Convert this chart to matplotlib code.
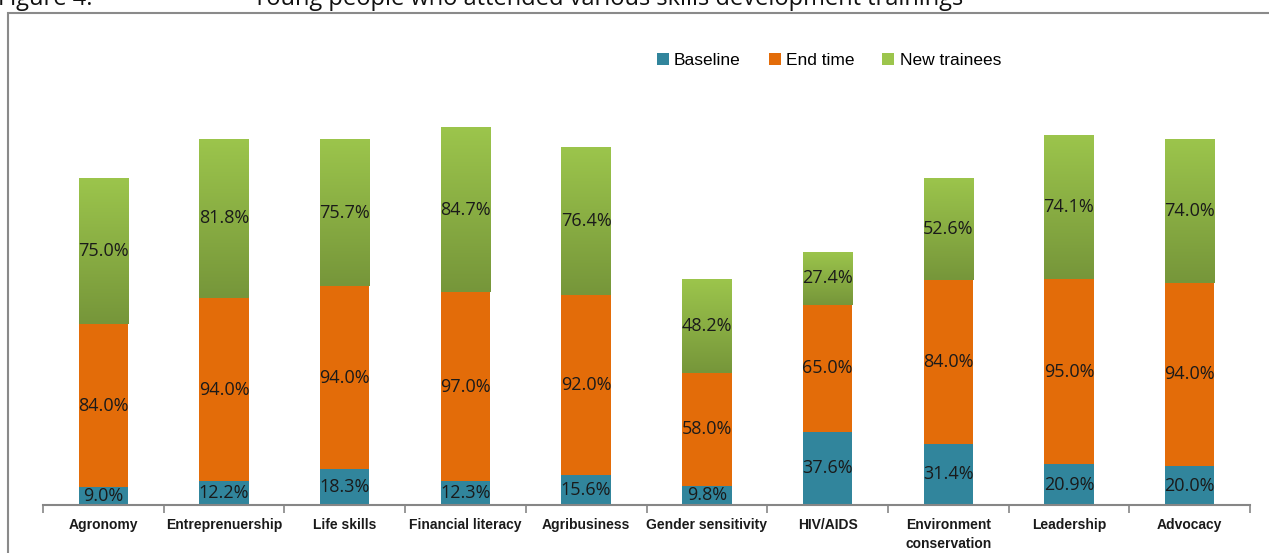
import numpy as np
from matplotlib import pyplot as plt
from matplotlib.patches import Rectangle
from matplotlib.colors import LinearSegmentedColormap

categories = ["Agronomy", "Entreprenuership", "Life skills", "Financial literacy",
              "Agribusiness", "Gender sensitivity", "HIV/AIDS",
              "Environment\nconservation", "Leadership", "Advocacy"]
baseline = [9.0, 12.2, 18.3, 12.3, 15.6, 9.8, 37.6, 31.4, 20.9, 20.0]
end_time = [84.0, 94.0, 94.0, 97.0, 92.0, 58.0, 65.0, 84.0, 95.0, 94.0]
new_trainees = [75.0, 81.8, 75.7, 84.7, 76.4, 48.2, 27.4, 52.6, 74.1, 74.0]

teal = "#31859C"
orange = "#E36C09"
green_top = "#9CC54C"
green_bot = "#76963A"

fig = plt.figure(figsize=(12.69, 5.53), dpi=100)
ax = fig.add_axes([43 / 1269, 1 - 505 / 553, (1250 - 43) / 1269, 487 / 553])

x = np.arange(len(categories))
w = 0.41
base = np.array(baseline)
mid = base + np.array(end_time)

ax.bar(x, baseline, w, color=teal, label="Baseline", zorder=2)
ax.bar(x, end_time, w, bottom=base, color=orange, label="End time", zorder=2)
gbars = ax.bar(x, new_trainees, w, bottom=mid, color=green_top, label="New trainees", zorder=2)

# vertical gradient on the green segments
cmap = LinearSegmentedColormap.from_list("g", [green_bot, green_top])
grad = np.linspace(0, 1, 256).reshape(-1, 1)
for b in gbars:
    x0, y0 = b.get_x(), b.get_y()
    im = ax.imshow(grad, cmap=cmap, origin="lower", aspect="auto",
                   extent=[x0, x0 + b.get_width(), y0, y0 + b.get_height()], zorder=3)
    im.set_clip_path(b)

lab_font = ["Open Sans", "DejaVu Sans"]
for i in range(len(categories)):
    ax.text(x[i], baseline[i] / 2, f"{baseline[i]:.1f}%", ha="center", va="center",
            fontsize=13, family=lab_font, color="#1a1a1a", zorder=5)
    ax.text(x[i], base[i] + end_time[i] / 2, f"{end_time[i]:.1f}%", ha="center", va="center",
            fontsize=13, family=lab_font, color="#1a1a1a", zorder=5)
    ax.text(x[i], mid[i] + new_trainees[i] / 2, f"{new_trainees[i]:.1f}%", ha="center", va="center",
            fontsize=13, family=lab_font, color="#1a1a1a", zorder=5)

ax.set_xlim(-0.5, len(categories) - 0.5)
ax.set_ylim(0, 487 / 1.948)
ax.set_yticks([])
for s in ["top", "right", "left"]:
    ax.spines[s].set_visible(False)
ax.spines["bottom"].set_color("#868686")
ax.spines["bottom"].set_linewidth(1.5)
ax.set_xticks(np.arange(-0.5, len(categories), 1.0))
ax.set_xticklabels([])
ax.tick_params(axis="x", length=6, color="#868686", width=1.2, direction="out")
for i, c in enumerate(categories):
    ax.text(x[i], -6.5, c, ha="center", va="top", fontsize=10, fontweight="bold",
            family="Liberation Sans", color="#1a1a1a", linespacing=1.45)

fig.legend(loc="upper left", bbox_to_anchor=(641 / 1269, 1 - 37 / 553), ncol=3,
           frameon=False, prop={"family": "Liberation Sans", "size": 12.5},
           handlelength=0.7, handleheight=0.7, handletextpad=0.3, columnspacing=1.6)

# outer frame
fig.patches.append(Rectangle((8 / 1269, -0.1), 1.2, 1 - 13 / 553 + 0.1, transform=fig.transFigure,
                             fill=False, edgecolor="#8a8a8a", linewidth=1.5))

fig.text(-2 / 1269, 1 - 5 / 553, "Figure 4:", ha="left", va="baseline", fontsize=17,
         family=["Open Sans", "DejaVu Sans"], color="#111111")
fig.text(253 / 1269, 1 - 5 / 553, "Young people who attended various skills development trainings",
         ha="left", va="baseline", fontsize=17, family=["Open Sans", "DejaVu Sans"], color="#111111")

fig.savefig("out.png", dpi=100)
